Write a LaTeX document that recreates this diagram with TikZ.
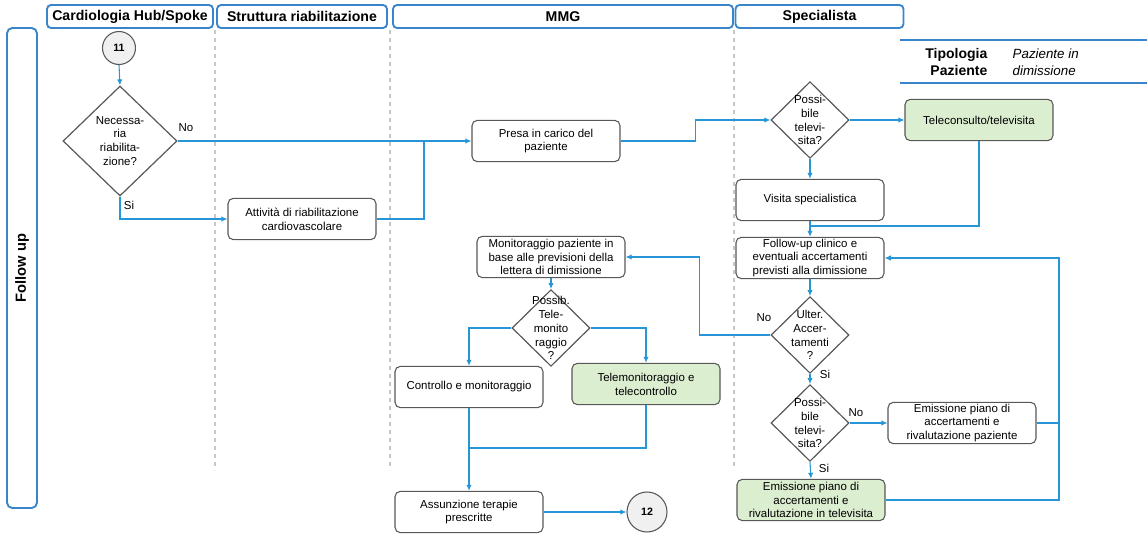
\documentclass[tikz,border=0pt]{standalone}
\usepackage{fontspec}
\setmainfont{Liberation Sans}
\usepackage{tikz}
\usetikzlibrary{positioning, arrows.meta, shapes.geometric, calc}
\definecolor{lane}{RGB}{58,132,204}
\definecolor{wire}{RGB}{38,150,214}
\definecolor{frame}{RGB}{88,88,88}
\definecolor{leaf}{RGB}{220,238,208}
\definecolor{fog}{RGB}{240,240,240}
\definecolor{grid}{RGB}{200,200,200}

\begin{document}
\begin{tikzpicture}[
  x=0.75pt, y=-0.75pt,
  hdr/.style={rectangle, rounded corners=3pt, draw=lane, line width=1.4pt,
              fill=white, minimum height=17.25pt, inner sep=0pt,
              font=\fontsize{10.6}{12}\selectfont\bfseries},
  act/.style={rectangle, rounded corners=4pt, draw=frame, line width=0.8pt,
              fill=white, minimum width=111pt, minimum height=31pt,
              inner sep=1pt, align=center,
              font=\fontsize{8.6}{10.4}\selectfont},
  tel/.style={act, fill=leaf},
  ask/.style={diamond, draw=frame, line width=0.9pt, fill=white,
              inner sep=0pt, minimum width=58.5pt, minimum height=57.5pt},
  big/.style={ask, minimum width=85.5pt, minimum height=82.5pt},
  txt/.style={align=center, inner sep=0pt,
              font=\fontsize{8.6}{10.4}\selectfont},
  con/.style={circle, draw=frame, line width=0.8pt, fill=fog,
              inner sep=0pt, font=\fontsize{8}{9}\selectfont\bfseries},
  sep/.style={draw=grid, line width=0.9pt, dashed},
  line/.style={draw=wire, line width=0.8pt},
  flow/.style={line, -{Latex[length=4.5pt, width=4pt]}},
  back/.style={draw=wire, line width=1.5pt, -{Latex[length=5pt, width=4.5pt]}},
  ans/.style={font=\fontsize{8.6}{10}\selectfont, inner sep=0pt}]
  \useasboundingbox (0,0) rectangle (1147,535);

  % lanes and headers
  \draw[sep] (215,30) -- (215,470);
  \draw[sep] (390,30) -- (390,470);
  \draw[sep] (734,30) -- (734,470);
  \node[hdr, minimum width=124.5pt] (hcard) at (130,16.5) {Cardiologia Hub/Spoke};
  \node[hdr, minimum width=127.5pt] (hriab) at (302,16.5) {Struttura riabilitazione};
  \node[hdr, minimum width=255pt] (hmmg) at (563,16.5) {MMG};
  \node[hdr, minimum width=126pt] (hspec) at (819.5,16.5) {Specialista};
  \node[hdr, minimum width=22.5pt, minimum height=360pt,
        rounded corners=4pt] (phase) at (22,268) {};
  \node[rotate=90, font=\fontsize{11}{12}\selectfont\bfseries] (phasetxt)
    at (phase.center) {Follow up};

  % patient type
  \draw[draw=lane, line width=1pt] (900,40) -- (1147,40);
  \draw[draw=lane, line width=1pt] (900,83) -- (1147,83);
  \node[align=right, anchor=east, font=\fontsize{10.5}{12.8}\selectfont\bfseries]
    (tipo) at (992,62) {Tipologia\\Paziente};
  \node[align=left, anchor=west, font=\fontsize{10}{12.8}\selectfont\itshape]
    (tipoval) at (1008,62) {Paziente in\\dimissione};

  % cardiologia / riabilitazione
  \node[con, minimum size=24.75pt] (c11) at (119,48) {11};
  \node[big, label={[txt]center:Necessa-\\ria\\riabilita-\\zione?}] (d1) at (120,141) {};
  \node[act] (riab) at (302,219) {Attività di riabilitazione\\cardiovascolare};
  \coordinate (j1) at (424,141);

  % MMG
  \node[act] (presa) at (546,141) {Presa in carico del\\paziente};
  \node[act] (monit) at (551,257) {Monitoraggio paziente in\\base alle previsioni della\\lettera di dimissione};
  \node[ask, label={[txt]center:Possib.\\Tele-\\monito\\raggio\\?}] (d5) at (551,328) {};
  \node[act] (ctrl) at (469,387) {Controllo e monitoraggio};
  \node[tel] (telem) at (646,384) {Telemonitoraggio e\\telecontrollo};
  \coordinate (j4) at (469,448);
  \node[act] (assun) at (469,512) {Assunzione terapie\\prescritte};
  \node[con, minimum size=30pt] (c12) at (647,512) {12};

  % specialista
  \node[ask, label={[txt]center:Possi-\\bile\\televi-\\sita?}] (d2) at (810,120) {};
  \node[tel] (tele) at (979,120) {Teleconsulto/televisita};
  \node[act] (visita) at (810,200) {Visita specialistica};
  \coordinate (j2) at (810,226);
  \node[act] (fup) at (810,258) {Follow-up clinico e\\eventuali accertamenti\\previsti alla dimissione};
  \node[ask, label={[txt]center:Ulter.\\Accer-\\tamenti\\?}] (d3) at (810,335) {};
  \node[ask, label={[txt]center:Possi-\\bile\\televi-\\sita?}] (d4) at (810,423) {};
  \node[act] (emiss) at (962,423) {Emissione piano di\\accertamenti e\\rivalutazione paziente};
  \node[tel] (emtel) at (811,500) {Emissione piano di\\accertamenti e\\rivalutazione in televisita};
  \coordinate (j3) at (1059,258);

  % connectors
  \draw[flow] (c11.south) -- (d1.north);
  \draw[flow] (d1.east) -- (presa.west);
  \draw[flow] (d1.south) |- (riab.west);
  \draw[line] (riab.east) -| (j1);
  \draw[flow] (presa.east) -- ++(75,0) |- (d2.west);
  \draw[flow] (d2.east) -- (tele.west);
  \draw[flow] (d2.south) -- (visita.north);
  \draw[flow] (visita.south) -- (fup.north);
  \draw[line] (tele.south) |- (j2);
  \draw[flow] (fup.south) -- (d3.north);
  \draw[flow] (d3.west) -- ++(-71,0) |- (monit.east);
  \draw[flow] (d3.south) -- (d4.north);
  \draw[flow] (d4.east) -- (emiss.west);
  \draw[flow] (d4.south) -- (emtel.north);
  \draw[back] (emtel.east) -| (j3) -- (fup.east);
  \draw[line, line width=1.1pt] (emiss.east) -- (emiss.east -| j3);
  \draw[flow] (monit.south) -- (d5.north);
  \draw[flow] (d5.west) -| (ctrl.north);
  \draw[flow] (d5.east) -| (telem.north);
  \draw[flow] (ctrl.south) -- (assun.north);
  \draw[line] (telem.south) |- (j4);
  \draw[flow] (assun.east) -- (c12.west);

  % answers
  \node[ans] (no1) at (186,128) {No};
  \node[ans] (si1) at (129,205) {Si};
  \node[ans] (no3) at (764,318) {No};
  \node[ans] (si3) at (825,374) {Si};
  \node[ans] (no4) at (856,413) {No};
  \node[ans] (si4) at (824,468) {Si};
\end{tikzpicture}
\end{document}
